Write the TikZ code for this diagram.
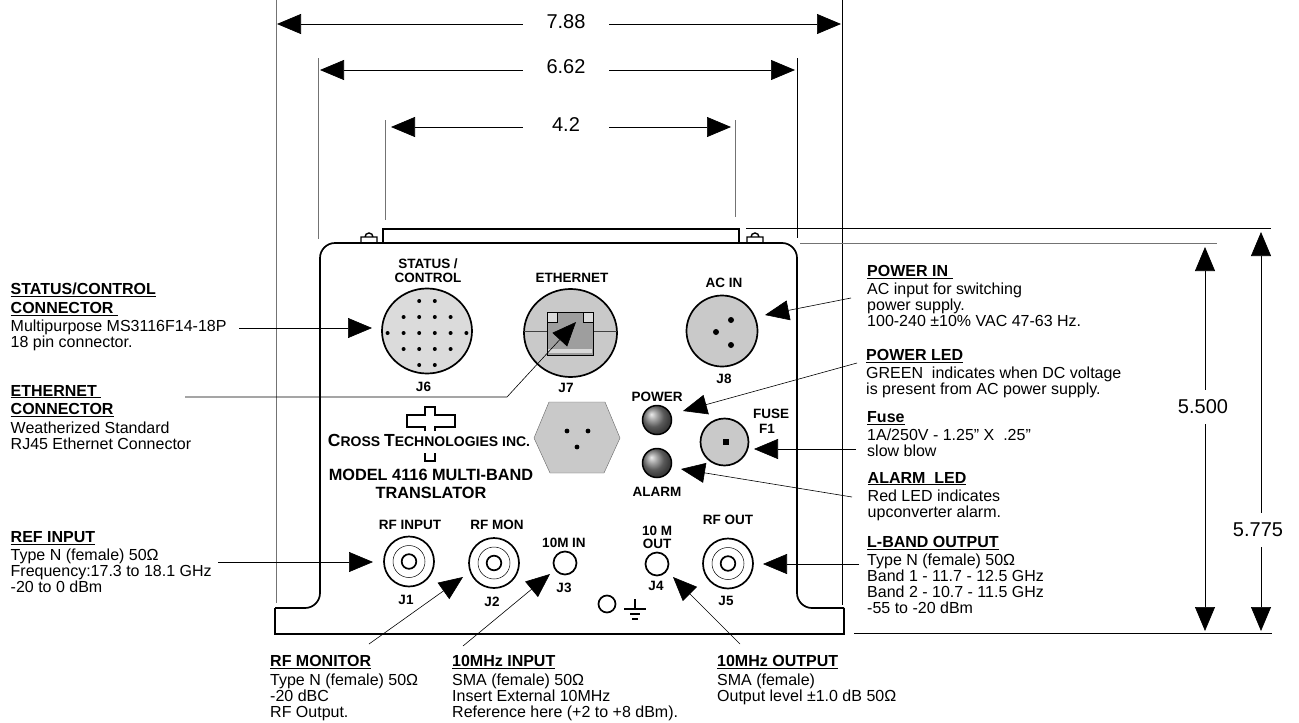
\documentclass[tikz,border=0pt]{standalone}
\usepackage{fontspec}
\setmainfont{Liberation Sans}
\usetikzlibrary{arrows.meta,shapes.geometric}
\definecolor{panelA}{gray}{0.86}
\definecolor{panelB}{gray}{0.79}
\tikzset{
  x=1pt,y=-1pt,
  ann/.style={line width=0.6pt,-{Triangle[length=24pt,width=20pt]}},
  dimarrow/.style={line width=0.7pt,{Triangle[length=24pt,width=20pt]}-{Triangle[length=24pt,width=20pt]}},
  ext/.style={line width=0.9pt,black!55},
  extthin/.style={line width=0.6pt,black},
  body/.style={line width=1.7pt},
  note/.style={anchor=north west,align=left,font=\fontsize{16}{16}\selectfont,inner sep=0pt},
  lab/.style={align=center,font=\fontsize{13.5}{13.5}\selectfont\bfseries,inner sep=0pt},
  dim/.style={font=\fontsize{20}{22}\selectfont,fill=white,inner sep=0pt},
  dot/.style={circle,fill=black,inner sep=0pt,minimum size=#1},
  port/.style={ellipse,draw,line width=1.7pt,inner sep=0pt},
}
\newcommand{\hd}[1]{\textbf{\underline{#1}}\\[2.5pt]}
\begin{document}
\begin{tikzpicture}
\useasboundingbox (0,0) rectangle (1299,723);
% extension lines
\draw[ext] (276,0) -- (276,603);
\draw[ext] (318.7,58) -- (318.7,239);
\draw[ext] (385,120) -- (385,220);
\draw[ext] (735,120) -- (735,217);
\draw[extthin] (797,58) -- (797,238);
\draw[extthin] (842.5,0) -- (842.5,605);
\draw[extthin] (746,228) -- (1271,228);
\draw[ext] (800,243) -- (1217,243);
\draw[extthin] (854,633) -- (1272,633);
% chassis
\draw[body] (275,608) -- (275,634) -- (844,634) -- (844,608);
\draw[body,rounded corners=15pt] (844,608) -- (797,608) -- (797,243) -- (320,243) -- (320,608) -- (275,608);
\draw[body] (383,243) -- (383,229) -- (739,229) -- (739,243);
\draw[line width=1.4pt] (361,243) -- (361,237) -- (377,237) -- (377,243) (365,237) arc[start angle=180,end angle=360,radius=4];
\draw[line width=1.4pt] (747,243) -- (747,237) -- (763,237) -- (763,243) (751,237) arc[start angle=180,end angle=360,radius=4];
% J6
\node[port,fill=panelA,minimum width=90pt,minimum height=85pt] (j6) at (427,331) {};
\foreach \x/\ys in {-7.8/{-32,-16,0,16,32},7.8/{-32,-16,0,16,32},-23.4/{-16,0,16},23.6/{-16,0,16},-39.4/{0},39.4/{0}}
  \foreach \y in \ys \fill (427+\x,333+\y) circle (2);
\node[lab] (t6) at (428,270.5) {STATUS /\\CONTROL};
\node[lab] (n6) at (423.5,387) {J6};
% J7
\node[port,fill=panelB,minimum width=93pt,minimum height=88pt] (j7) at (570.5,333) {};
\draw[line width=1pt,black!75] (524,331) -- (547,331) (593,331) -- (617,331);
\draw[line width=0.8pt,fill=black!38] (547,312) rectangle (593,355);
\fill[black!15] (548,348.5) rectangle (592,353);
\draw[line width=0.8pt,fill=panelA] (547,312) rectangle (557,322) (583,312) rectangle (593,322);
\node[lab] (t7) at (572,278) {ETHERNET};
\node[lab] (n7) at (566,388) {J7};
% J8
\node[port,fill=panelB,minimum width=71pt,minimum height=71pt] (j8) at (722,331) {};
\node[dot=6pt] (p81) at (731,320) {};
\node[dot=6pt] (p82) at (716,332) {};
\node[dot=6pt] (p83) at (731,345) {};
\node[lab] (t8) at (724,283) {AC IN};
\node[lab] (n8) at (724,379) {J8};
% hex
\draw[line width=0.4pt,black!60,fill=panelB] (549,402) -- (605,402) -- (620,438) -- (604,473) -- (550,473) -- (534,438) -- cycle;
\fill (567,431) circle (2.4) (588,431) circle (2.4) (577,447) circle (2.4);
% logo
\draw[line width=1.7pt] (425,431) -- (425,427) -- (407,427) -- (407,415) -- (425,415) -- (425,407) -- (435,407) -- (435,415) -- (455,415) -- (455,427) -- (435,427) -- (435,431);
\draw[line width=1.7pt] (425,453) -- (425,461) -- (435,461) -- (435,453);
\node[font=\fontsize{17.5}{18}\selectfont\bfseries,inner sep=0pt] (brand) at (429,440.5) {C\fontsize{14}{18}\selectfont ROSS \fontsize{17.5}{18}\selectfont T\fontsize{14}{18}\selectfont ECHNOLOGIES INC.};
\node[align=center,font=\fontsize{16.3}{18}\selectfont\bfseries,inner sep=0pt] (model) at (431,484) {MODEL 4116 MULTI-BAND\\TRANSLATOR};
% LEDs
\shade[ball color=black!50] (657,420) circle (14.5);
\draw[line width=1.5pt] (657,420) circle (14.5);
\shade[ball color=black!50] (657,463) circle (14.5);
\draw[line width=1.5pt] (657,463) circle (14.5);
\node[lab] (tp) at (657,397) {POWER};
\node[lab] (ta) at (657,492) {ALARM};
% Fuse
\node[port,fill=panelB,minimum width=48pt,minimum height=47pt] (fuse) at (724.5,442) {};
\node[rectangle,fill=black,minimum size=6pt,inner sep=0pt] (fpin) at (726,442) {};
\node[lab] (tf) at (771,414) {FUSE};
\node[lab] (tf1) at (767,429) {F1};
% RF connectors
\foreach \n/\x/\y/\lx/\ly/\t/\nt/\nx/\ny in {j1/409/561.5/410/525/RF INPUT/J1/406/600,j2/494/563/497/525/RF MON/J2/492/602,j5/728/563.5/728/520/RF OUT/J5/726/601}{
  \node[port,fill=white,minimum width=50pt,minimum height=50pt] (\n) at (\x,\y) {};
  \draw[line width=0.5pt] (\x,\y) circle (16);
  \draw[line width=1.7pt] (\x,\y) circle (7.3);
  \node[lab] at (\lx,\ly) {\t};
  \node[lab] at (\nx,\ny) {\nt};
}
% small connectors
\node[port,fill=white,minimum width=23pt,minimum height=23pt] (j3) at (565,563) {};
\node[lab] (t3) at (564,543) {10M IN};
\node[lab] (n3) at (564,588) {J3};
\node[port,fill=white,minimum width=23pt,minimum height=23pt] (j4) at (657,564) {};
\node[lab] (t4) at (657,537.5) {10 M\\OUT};
\node[lab] (n4) at (656,586) {J4};
\node[port,fill=white,minimum width=17pt,minimum height=17pt] (gnd) at (607,604) {};
\draw[line width=1.3pt] (635,599) -- (635,609) (624,609) -- (646,609) (630,614) -- (640,614) (632,619) -- (638,619);
% dimensions
\coordinate (a1) at (277,24); \coordinate (a2) at (841,24);
\coordinate (b1) at (320,70); \coordinate (b2) at (795,70);
\coordinate (c1) at (391,127); \coordinate (c2) at (731,127);
\draw[dimarrow] (a1) -- (a2);
\draw[dimarrow] (b1) -- (b2);
\draw[dimarrow] (c1) -- (c2);
\node[dim,minimum width=86pt,minimum height=20pt] (da) at (566,22) {7.88};
\node[dim,minimum width=86pt,minimum height=20pt] (db) at (566,67) {6.62};
\node[dim,minimum width=86pt,minimum height=20pt] (dc) at (566,125) {4.2};
\coordinate (v1) at (1205,247); \coordinate (v2) at (1205,631);
\coordinate (w1) at (1261,232); \coordinate (w2) at (1261,631);
\draw[dimarrow] (v1) -- (v2);
\draw[dimarrow] (w1) -- (w2);
\node[dim,minimum width=54pt,minimum height=34pt] (dv) at (1203,407) {5.500};
\node[dim,minimum width=54pt,minimum height=34pt] (dw) at (1258,530) {5.775};
% notes
\node[note] (n1) at (10.5,283) {\hd{STATUS/CONTROL}\hd{CONNECTOR\ }Multipurpose MS3116F14-18P\\18 pin connector.};
\node[note] (n2) at (10.5,385) {\hd{ETHERNET\ }\hd{CONNECTOR}Weatherized Standard\\RJ45 Ethernet Connector};
\node[note] (n3x) at (10.5,531) {\hd{REF INPUT}Type N (female) 50Ω\\Frequency:17.3 to 18.1 GHz\\-20 to 0 dBm};
\node[note] (n4x) at (270,655.5) {\hd{RF MONITOR}Type N (female) 50Ω\\-20 dBC\\RF Output.};
\node[note] (n5x) at (452,655.5) {\hd{10MHz INPUT}SMA (female) 50Ω\\Insert External 10MHz\\Reference here (+2 to +8 dBm).};
\node[note] (n6x) at (717,655.5) {\hd{10MHz OUTPUT}SMA (female)\\Output level ±1.0 dB 50Ω};
\node[note] (n7x) at (867,265) {\hd{POWER IN\ }AC input for switching\\power supply.\\100-240 ±10\% VAC 47-63 Hz.};
\node[note] (n8x) at (866,349) {\hd{POWER LED}GREEN\ \ indicates when DC voltage\\is present from AC power supply.};
\node[note] (n9x) at (867,411) {\hd{Fuse}1A/250V - 1.25” X\ \ .25”\\slow blow};
\node[note] (n10x) at (867.5,472) {\hd{ALARM\ \ LED}Red LED indicates\\upconverter alarm.};
\node[note] (n11x) at (867,536) {\hd{L-BAND OUTPUT}Type N (female) 50Ω\\Band 1 - 11.7 - 12.5 GHz\\Band 2 - 10.7 - 11.5 GHz\\-55 to -20 dBm};
% leaders
\coordinate (s1) at (239,328); \coordinate (e1) at (372,328);
\draw[ann] (s1) -- (e1);
\coordinate (s2) at (185,397); \coordinate (m2) at (507,397); \coordinate (e2) at (576,322);
\draw[ann] (s2) -- (m2) -- (e2);
\coordinate (s3) at (218,562); \coordinate (e3) at (373,562);
\draw[ann] (s3) -- (e3);
\coordinate (s4) at (369,644); \coordinate (e4) at (463,577);
\draw[ann] (s4) -- (e4);
\coordinate (s5) at (463,646); \coordinate (e5) at (550,574);
\draw[ann] (s5) -- (e5);
\coordinate (s6) at (740,644); \coordinate (e6) at (673,577);
\draw[ann] (s6) -- (e6);
\coordinate (s7) at (851,298); \coordinate (e7) at (765,315);
\draw[ann] (s7) -- (e7);
\coordinate (s8) at (857,363); \coordinate (e8) at (683,411);
\draw[ann] (s8) -- (e8);
\coordinate (s9) at (856,449); \coordinate (e9) at (754,449);
\draw[ann] (s9) -- (e9);
\coordinate (s10) at (852,497); \coordinate (e10) at (681,469);
\draw[ann] (s10) -- (e10);
\coordinate (s11) at (859,564); \coordinate (e11) at (763,564);
\draw[ann] (s11) -- (e11);
\end{tikzpicture}
\end{document}
